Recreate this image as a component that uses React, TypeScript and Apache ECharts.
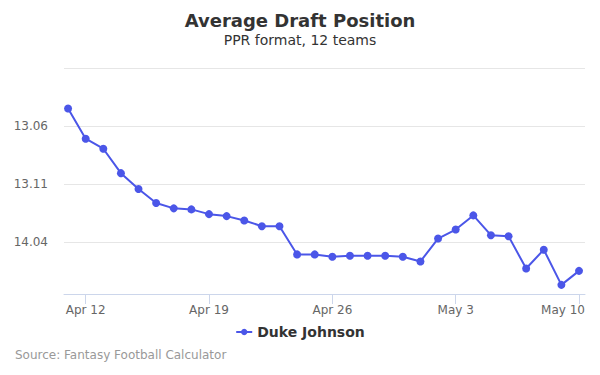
import React, { useEffect, useRef } from "react";
import * as echarts from "echarts";

const dates: string[] = [
  "Apr 11", "Apr 12", "Apr 13", "Apr 14", "Apr 15", "Apr 16", "Apr 17", "Apr 18", "Apr 19", "Apr 20",
  "Apr 21", "Apr 22", "Apr 23", "Apr 24", "Apr 25", "Apr 26", "Apr 27", "Apr 28", "Apr 29", "Apr 30",
  "May 1", "May 2", "May 3", "May 4", "May 5", "May 6", "May 7", "May 8", "May 9", "May 10",
];
const adp: number[] = [
  148.47, 151.08, 151.95, 154.06, 155.43, 156.64, 157.1, 157.19, 157.6, 157.77,
  158.15, 158.64, 158.64, 161.08, 161.08, 161.28, 161.19, 161.19, 161.19, 161.28,
  161.69, 159.71, 158.93, 157.71, 159.42, 159.51, 162.3, 160.67, 163.71, 162.5,
];
const tickIndices: number[] = [1, 8, 15, 22, 29];
const yTickValues: number[] = [150, 155, 160];
const seriesName = "Duke Johnson";

const FONT = "DejaVu Sans";

function pickLabel(v: number): string {
  const round = Math.floor((v - 1) / 12) + 1;
  const pick = Math.round(v - (round - 1) * 12);
  return round + "." + (pick < 10 ? "0" + pick : String(pick));
}

export default function App() {
  const ref = useRef<HTMLDivElement>(null);
  useEffect(() => {
    if (!ref.current) return;
    const chart = echarts.init(ref.current, undefined, { renderer: "svg" });
    const color = "#4b56e8";
    chart.setOption({
      animation: false,
      textStyle: { fontFamily: FONT },
      title: {
        text: "Average Draft Position",
        subtext: "PPR format, 12 teams",
        left: "center",
        top: 6,
        itemGap: 4,
        textStyle: { fontFamily: FONT, fontSize: 18, fontWeight: "bold", color: "#333333" },
        subtextStyle: { fontFamily: FONT, fontSize: 14, color: "#333333" },
      },
      legend: {
        top: 320,
        left: "center",
        itemWidth: 16,
        itemHeight: 8,
        itemGap: 8,
        textStyle: { fontFamily: FONT, fontSize: 14, fontWeight: "bold", color: "#333333" },
        data: [seriesName],
      },
      graphic: [
        {
          type: "text",
          left: 15,
          top: 349,
          style: { text: "Source: Fantasy Football Calculator", fill: "#999999", fontSize: 12, fontFamily: FONT },
        },
      ],
      grid: { left: 64, right: 15, top: 68.3, bottom: 81, containLabel: false },
      xAxis: {
        type: "value",
        min: -0.23,
        max: 29.34,
        splitLine: { show: false },
        axisLine: { show: true, lineStyle: { color: "#ccd6eb" } },
        axisTick: { show: true, length: 10, lineStyle: { color: "#ccd6eb" }, customValues: tickIndices },
        axisLabel: {
          customValues: tickIndices,
          color: "#666666",
          fontSize: 12,
          fontFamily: FONT,
          margin: 10,
          formatter: (v: number) => {
            const i = Math.round(v);
            if (i === tickIndices[tickIndices.length - 1]) return "{last|" + dates[i] + "}";
            return dates[i] ?? "";
          },
          rich: {
            last: { color: "#666666", fontSize: 12, fontFamily: FONT, padding: [0, 32, 0, 0] },
          },
        },
      },
      yAxis: {
        type: "value",
        inverse: true,
        min: 145,
        max: 164.5,
        interval: 5,
        axisLine: { show: false },
        axisTick: { show: false },
        splitLine: { show: true, lineStyle: { color: "#e6e6e6" } },
        axisLabel: {
          color: "#666666",
          fontSize: 12,
          fontFamily: FONT,
          margin: 16,
          formatter: (v: number) => (yTickValues.indexOf(v) >= 0 ? pickLabel(v) : ""),
        },
      },
      series: [
        {
          name: seriesName,
          type: "line",
          data: adp.map((v, i) => [i, v]),
          symbol: "circle",
          symbolSize: 8,
          itemStyle: { color },
          lineStyle: { color, width: 2 },
        },
      ],
    });
    return () => chart.dispose();
  }, []);
  return <div ref={ref} style={{ width: 600, height: 375, position: "absolute", left: 0, top: 0 }} />;
}
